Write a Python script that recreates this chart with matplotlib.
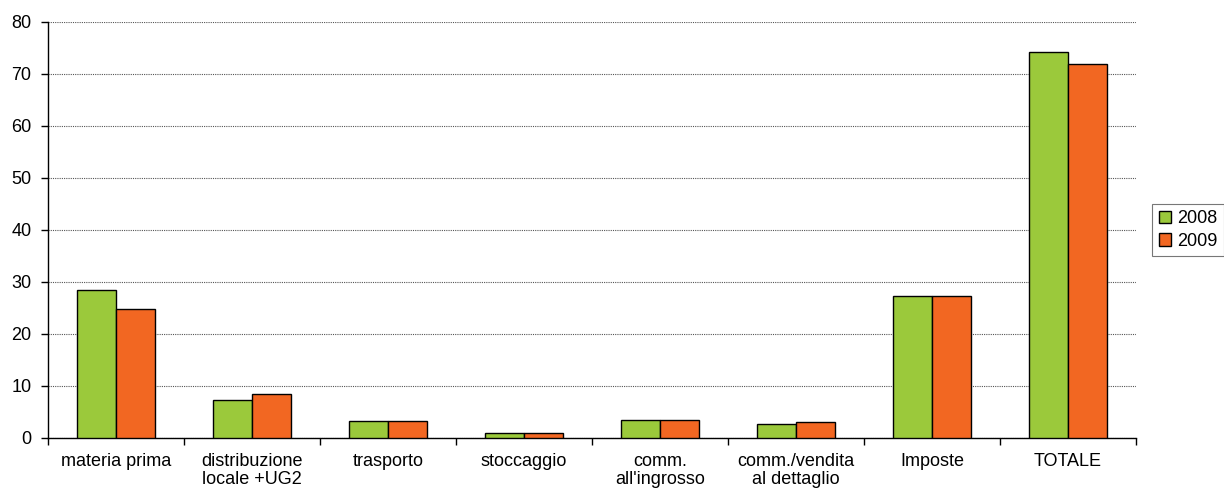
import numpy as np
import matplotlib
matplotlib.use("Agg")
import matplotlib.pyplot as plt

categories = ["materia prima", "distribuzione\nlocale +UG2", "trasporto", "stoccaggio",
              "comm.\nall'ingrosso", "comm./vendita\nal dettaglio", "Imposte", "TOTALE"]
v2008 = [28.4, 7.4, 3.3, 1.0, 3.5, 2.75, 27.4, 74.3]
v2009 = [24.8, 8.4, 3.3, 1.0, 3.5, 3.1, 27.4, 72.0]
years = ["2008", "2009"]

GREEN = "#9BC93B"
ORANGE = "#F26722"

plt.rcParams["font.family"] = ["Liberation Sans", "DejaVu Sans"]
plt.rcParams["font.size"] = 13

fig = plt.figure(figsize=(12.24, 4.91), dpi=100)
ax = fig.add_axes([48 / 1224, 1 - 438 / 491, (1136 - 48) / 1224, (438 - 22) / 491])

x = np.arange(len(categories))
w = 0.29
ax.bar(x - w / 2, v2008, width=w, color=GREEN, edgecolor="black", linewidth=1.0,
       label=years[0], zorder=3)
ax.bar(x + w / 2, v2009, width=w, color=ORANGE, edgecolor="black", linewidth=1.0,
       label=years[1], zorder=3)

ax.set_xlim(-0.5, len(categories) - 0.5)
ax.set_ylim(0, 80)
ax.set_yticks(np.arange(0, 81, 10))
ax.yaxis.grid(True, linestyle=(0, (1, 1)), color="#555555", linewidth=0.8, zorder=0)

ax.set_xticks(x)
ax.set_xticklabels(categories, linespacing=1.05)
ax.tick_params(axis="x", length=0, pad=11)
ax.set_xticks(np.arange(-0.5, len(categories), 1.0), minor=True)
ax.tick_params(axis="x", which="minor", length=5, width=1, direction="out")
ax.tick_params(axis="y", length=5, width=1, direction="out", pad=7)

for s in ("top", "right"):
    ax.spines[s].set_visible(False)
ax.spines["left"].set_linewidth(1.0)
ax.spines["bottom"].set_linewidth(1.0)

leg = ax.legend(loc="center left", bbox_to_anchor=(1.015, 0.5), frameon=True,
                fancybox=False, edgecolor="#555555", handlelength=0.7, handleheight=0.7,
                handletextpad=0.35, borderpad=0.35, labelspacing=0.3, borderaxespad=0)
leg.get_frame().set_linewidth(0.8)

fig.savefig("out.png", dpi=100)
